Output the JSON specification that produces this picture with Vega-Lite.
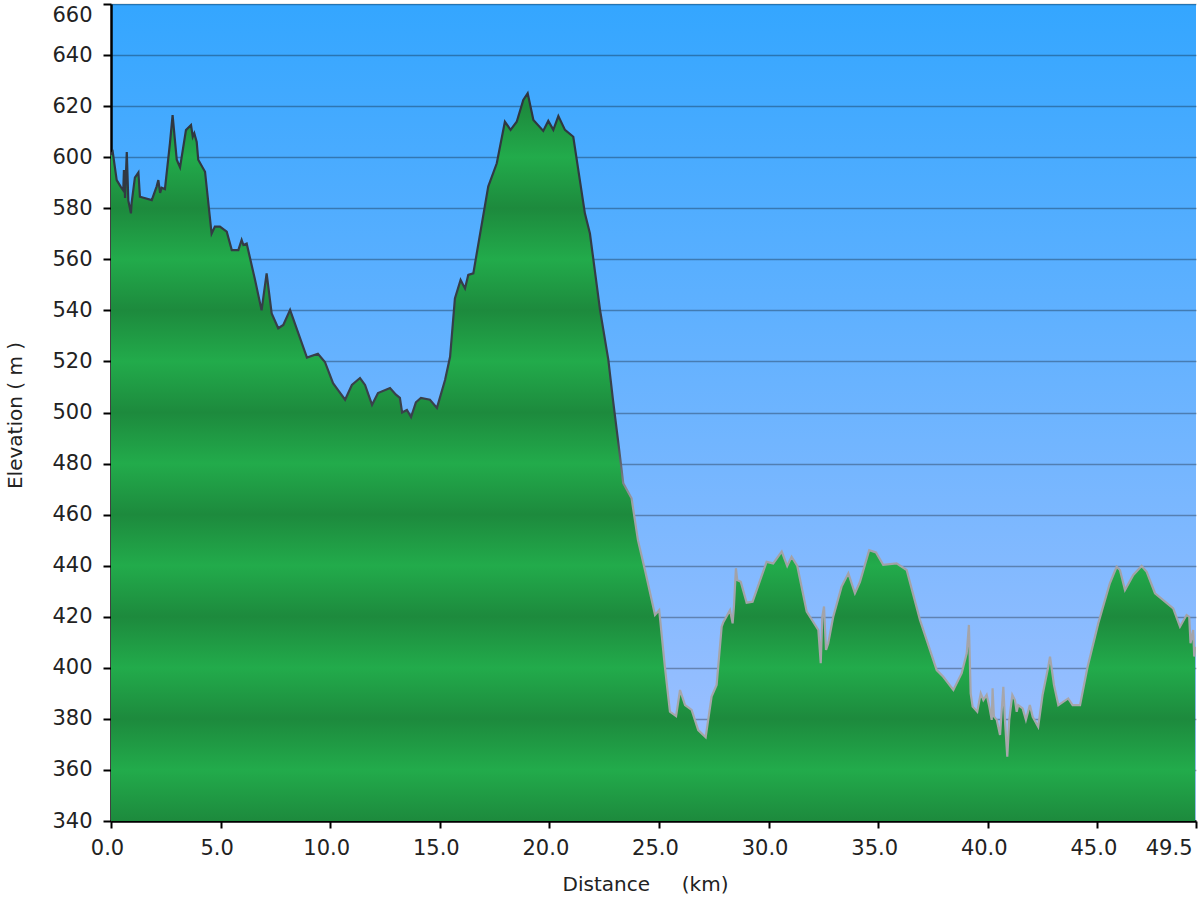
{
  "$schema": "https://vega.github.io/schema/vega-lite/v6.json",
  "width": 1085,
  "height": 817,
  "autosize": {"type": "none"},
  "padding": {"left": 111, "top": 4, "right": 4, "bottom": 79},
  "background": "white",
  "config": {
    "view": {
      "stroke": null,
      "fill": {"gradient": "linear", "x1": 0, "y1": 0, "x2": 0, "y2": 1,
        "stops": [{"offset": 0, "color": "#34a6ff"}, {"offset": 1, "color": "#a6c2ff"}]}
    },
    "axis": {
      "labelFont": "DejaVu Sans", "titleFont": "DejaVu Sans",
      "labelFontSize": 21, "titleFontSize": 20, "titleFontWeight": "normal",
      "labelColor": "#222222", "titleColor": "#222222",
      "domainColor": "#000000", "domainWidth": 2.5,
      "tickColor": "#000000", "tickWidth": 2,
      "zindex": 1
    }
  },
  "data": {"values": [
    {"d":0,"e":601},{"d":0.08,"e":602},{"d":0.26,"e":591},{"d":0.44,"e":588.5},{"d":0.56,"e":587},{"d":0.59,"e":595},{"d":0.64,"e":584},{"d":0.72,"e":602},{"d":0.79,"e":583},{"d":0.91,"e":578},{"d":0.94,"e":582},{"d":1.09,"e":592},{"d":1.25,"e":594},{"d":1.32,"e":584.5},{"d":1.86,"e":583.2},{"d":2.08,"e":588.5},{"d":2.16,"e":591},{"d":2.24,"e":586},{"d":2.31,"e":588},{"d":2.46,"e":587.5},{"d":2.69,"e":605.5},{"d":2.81,"e":616.5},{"d":3.0,"e":599},{"d":3.15,"e":596},{"d":3.42,"e":610.6},{"d":3.65,"e":612.6},{"d":3.73,"e":608},{"d":3.8,"e":609.4},{"d":3.91,"e":606},{"d":3.98,"e":599},{"d":4.29,"e":594.3},{"d":4.59,"e":570},{"d":4.74,"e":572.8},{"d":4.97,"e":572.8},{"d":5.28,"e":570.8},{"d":5.51,"e":563.6},{"d":5.81,"e":563.6},{"d":5.96,"e":567.6},{"d":6.04,"e":565.6},{"d":6.19,"e":566.2},{"d":6.57,"e":552},{"d":6.87,"e":540},{"d":7.1,"e":554.5},{"d":7.33,"e":538.8},{"d":7.63,"e":533},{"d":7.86,"e":534.3},{"d":8.17,"e":540.2},{"d":8.94,"e":521.5},{"d":9.44,"e":523},{"d":9.76,"e":519.8},{"d":10.13,"e":511.5},{"d":10.36,"e":508.8},{"d":10.68,"e":505},{"d":10.99,"e":510.8},{"d":11.36,"e":513.5},{"d":11.59,"e":510.8},{"d":11.91,"e":503},{"d":12.18,"e":507.6},{"d":12.73,"e":509.6},{"d":13.0,"e":507},{"d":13.18,"e":505.7},{"d":13.28,"e":500},{"d":13.5,"e":501},{"d":13.69,"e":498.2},{"d":13.91,"e":504},{"d":14.14,"e":505.7},{"d":14.55,"e":505},{"d":14.87,"e":501.8},{"d":15.24,"e":512.7},{"d":15.47,"e":521.8},{"d":15.69,"e":544.7},{"d":15.95,"e":551.9},{"d":16.15,"e":548.6},{"d":16.3,"e":553.9},{"d":16.53,"e":554.5},{"d":17.21,"e":588.5},{"d":17.6,"e":597.6},{"d":17.97,"e":613.9},{"d":18.23,"e":610.7},{"d":18.51,"e":613.9},{"d":18.81,"e":622.4},{"d":19.01,"e":625},{"d":19.27,"e":614.6},{"d":19.72,"e":610.3},{"d":19.95,"e":614.2},{"d":20.18,"e":610.7},{"d":20.41,"e":616.1},{"d":20.71,"e":610.7},{"d":21.09,"e":608},{"d":21.62,"e":578},{"d":21.85,"e":570.1},{"d":22.31,"e":540.2},{"d":22.69,"e":520.6},{"d":22.9,"e":505},{"d":23.13,"e":489.2},{"d":23.37,"e":472.3},{"d":23.75,"e":466.4},{"d":24.04,"e":450},{"d":24.36,"e":438.3},{"d":24.82,"e":420.7},{"d":25.01,"e":422.6},{"d":25.27,"e":400.4},{"d":25.5,"e":382.8},{"d":25.78,"e":381.1},{"d":25.96,"e":391.3},{"d":26.19,"e":385.4},{"d":26.49,"e":383.5},{"d":26.79,"e":375.6},{"d":27.13,"e":372.8},{"d":27.4,"e":388.7},{"d":27.63,"e":393.3},{"d":27.86,"e":416.1},{"d":27.94,"e":418},{"d":28.24,"e":422.6},{"d":28.36,"e":417.4},{"d":28.42,"e":424},{"d":28.51,"e":439},{"d":28.57,"e":434.4},{"d":28.73,"e":433.7},{"d":29.0,"e":425.5},{"d":29.27,"e":425.9},{"d":29.91,"e":441.5},{"d":30.21,"e":440.9},{"d":30.6,"e":445.5},{"d":30.85,"e":439.9},{"d":31.05,"e":443.5},{"d":31.31,"e":439.9},{"d":31.74,"e":422},{"d":32.27,"e":414.8},{"d":32.38,"e":401.8},{"d":32.45,"e":420},{"d":32.53,"e":424},{"d":32.62,"e":407},{"d":32.72,"e":409.5},{"d":32.95,"e":420},{"d":33.33,"e":431.8},{"d":33.64,"e":437},{"d":33.94,"e":429.2},{"d":34.17,"e":433.7},{"d":34.59,"e":446.1},{"d":34.9,"e":445.2},{"d":35.23,"e":440.3},{"d":35.84,"e":440.9},{"d":36.3,"e":438.3},{"d":36.91,"e":418.7},{"d":37.67,"e":399.1},{"d":37.97,"e":396.5},{"d":38.43,"e":391.3},{"d":38.81,"e":397.9},{"d":39.04,"e":405.7},{"d":39.14,"e":416.8},{"d":39.22,"e":390},{"d":39.31,"e":384.8},{"d":39.52,"e":382.8},{"d":39.68,"e":390},{"d":39.8,"e":387.4},{"d":39.95,"e":389.4},{"d":40.07,"e":384.8},{"d":40.18,"e":379.6},{"d":40.22,"e":392},{"d":40.28,"e":381},{"d":40.41,"e":379.6},{"d":40.56,"e":373.7},{"d":40.71,"e":392.6},{"d":40.78,"e":380},{"d":40.89,"e":365.2},{"d":40.98,"e":379.6},{"d":41.12,"e":389.4},{"d":41.24,"e":387.4},{"d":41.32,"e":382.8},{"d":41.39,"e":385.4},{"d":41.59,"e":384.1},{"d":41.74,"e":379.6},{"d":41.92,"e":385.4},{"d":42.05,"e":380.8},{"d":42.3,"e":376.9},{"d":42.5,"e":389.4},{"d":42.76,"e":400.4},{"d":42.84,"e":404.4},{"d":43.02,"e":393.3},{"d":43.22,"e":385.4},{"d":43.67,"e":388},{"d":43.87,"e":385.4},{"d":44.21,"e":385.4},{"d":44.54,"e":399.8},{"d":45.04,"e":417.4},{"d":45.57,"e":433.1},{"d":45.88,"e":439.6},{"d":46.03,"e":438.3},{"d":46.26,"e":430.5},{"d":46.64,"e":436.4},{"d":47.02,"e":439.9},{"d":47.25,"e":437.6},{"d":47.63,"e":429.2},{"d":48.46,"e":423.3},{"d":48.77,"e":416.1},{"d":49.07,"e":420.7},{"d":49.19,"e":420},{"d":49.25,"e":409.6},{"d":49.37,"e":414.8},{"d":49.42,"e":404.4},{"d":49.46,"e":408.3}
  ]},
  "encoding": {
    "x": {"field": "d", "type": "quantitative",
      "scale": {"domain": [0, 49.5], "nice": false, "zero": false},
      "axis": {
        "title": "Distance\u00a0\u00a0\u00a0\u00a0\u00a0(km)",
        "values": [0, 5, 10, 15, 20, 25, 30, 35, 40, 45, 49.5],
        "format": ".1f", "grid": false,
        "tickSize": 7, "labelPadding": 9, "labelOffset": -4,
        "labelAlign": {"condition": {"test": "datum.value >= 49.5", "value": "right"}, "value": "center"},
        "titleX": 534, "titleY": 63, "titleBaseline": "middle", "titleAlign": "center"
      }},
    "y": {"field": "e", "type": "quantitative",
      "scale": {"domain": [340, 660], "nice": false, "zero": false},
      "axis": {
        "title": "Elevation ( m )",
        "values": [340, 360, 380, 400, 420, 440, 460, 480, 500, 520, 540, 560, 580, 600, 620, 640, 660],
        "format": "d", "grid": true, "gridColor": "#000000", "gridOpacity": 0.3, "gridWidth": 1.5,
        "tickSize": 8, "labelPadding": 11,
        "labelBaseline": {"condition": {"test": "datum.value >= 660", "value": "top"}, "value": "middle"},
        "titleX": -96, "titleY": 411, "titleBaseline": "middle", "titleAlign": "center", "titleAngle": 270
      }}
  },
  "layer": [
    {"mark": {"type": "area", "interpolate": "linear", "clip": true,
      "fill": {"gradient": "linear", "x1": 0, "y1": 0, "x2": 0, "y2": 1, "stops": [
        {"offset": 0, "color": "#1f9240"},
        {"offset": 0.0175, "color": "#1d8a3d"},
        {"offset": 0.0877, "color": "#22ab4b"},
        {"offset": 0.1579, "color": "#1d8a3d"},
        {"offset": 0.2281, "color": "#22ab4b"},
        {"offset": 0.2982, "color": "#1d8a3d"},
        {"offset": 0.3684, "color": "#22ab4b"},
        {"offset": 0.4386, "color": "#1d8a3d"},
        {"offset": 0.5088, "color": "#22ab4b"},
        {"offset": 0.5789, "color": "#1d8a3d"},
        {"offset": 0.6491, "color": "#22ab4b"},
        {"offset": 0.7193, "color": "#1d8a3d"},
        {"offset": 0.7895, "color": "#22ab4b"},
        {"offset": 0.8596, "color": "#1d8a3d"},
        {"offset": 0.9298, "color": "#22ab4b"},
        {"offset": 1, "color": "#1d8a3d"}
      ]}},
      "encoding": {"y2": {"datum": 340}}},
    {"mark": {"type": "line", "interpolate": "linear", "strokeWidth": 2.2, "clip": true,
      "stroke": {"gradient": "linear", "x1": 0, "y1": 0, "x2": 0, "y2": 1, "stops": [
        {"offset": 0, "color": "#2e3640"},
        {"offset": 0.52, "color": "#3a424c"},
        {"offset": 0.62, "color": "#a0a0a6"},
        {"offset": 1, "color": "#a8a8ac"}
      ]}}}
  ]
}
